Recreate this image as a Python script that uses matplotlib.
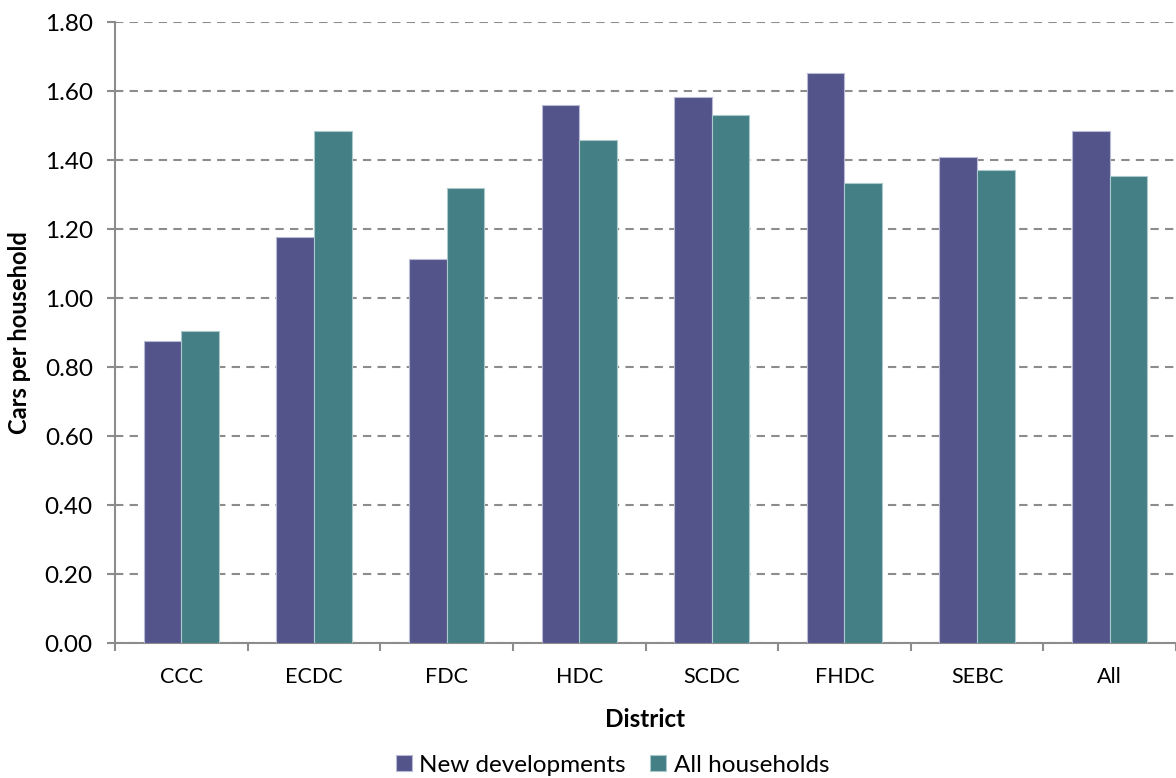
import matplotlib.pyplot as plt
import numpy as np

# Car ownership by district
districts = ["CCC", "ECDC", "FDC", "HDC", "SCDC", "FHDC", "SEBC", "All"]
new_developments = [0.877, 1.177, 1.115, 1.561, 1.584, 1.654, 1.410, 1.485]
all_households = [0.905, 1.486, 1.320, 1.459, 1.531, 1.334, 1.372, 1.355]
y_ticks = [0.0, 0.2, 0.4, 0.6, 0.8, 1.0, 1.2, 1.4, 1.6, 1.8]

purple = "#53548a"
teal = "#447f85"
grey = "#8c8c8c"

plt.rcParams['font.family'] = ['Lato', 'DejaVu Sans']

fig = plt.figure(figsize=(11.76, 7.78), dpi=100)
ax = fig.add_axes([0.0978, 0.1729, 0.9022, 0.7982])

x = np.arange(len(districts))
width = 0.284
ax.bar(x - width / 2, new_developments, width, color=purple,
       edgecolor="#b9bad6", linewidth=0.8, label="New developments", zorder=3)
ax.bar(x + width / 2, all_households, width, color=teal,
       edgecolor="#a9c9cc", linewidth=0.8, label="All households", zorder=3)

ax.set_xlim(-0.5, len(districts) - 0.5)
ax.set_ylim(0, 1.8)
ax.set_yticks(y_ticks)
ax.set_yticklabels([f"{v:.2f}" for v in y_ticks])
ax.yaxis.grid(True, linestyle=(0, (4, 3)), color=grey, linewidth=1.5, zorder=0)

# category labels in the middle, tick marks between groups
ax.set_xticks(x)
ax.set_xticklabels(districts)
ax.set_xticks(np.arange(-0.5, len(districts)), minor=True)
ax.tick_params(axis="x", which="major", length=0, pad=17, labelsize=15.5)
ax.tick_params(axis="x", which="minor", length=6, width=1.5, color=grey, direction="out")
ax.tick_params(axis="y", length=6, width=1.5, color=grey, labelsize=17.5, pad=10)

for side in ["top", "right"]:
    ax.spines[side].set_visible(False)
for side in ["left", "bottom"]:
    ax.spines[side].set_color(grey)
    ax.spines[side].set_linewidth(1.5)

ax.set_xlabel("District", fontsize=17.5, fontweight="bold", labelpad=15)
ax.set_ylabel("Cars per household", fontsize=17, fontweight="bold", labelpad=10)

fig.legend(loc="center", bbox_to_anchor=(0.521, 0.0167), ncol=2, frameon=False,
           fontsize=17.5, handlelength=0.65, handleheight=0.65,
           handletextpad=0.3, columnspacing=1.0)

fig.savefig("out.png", dpi=100)
